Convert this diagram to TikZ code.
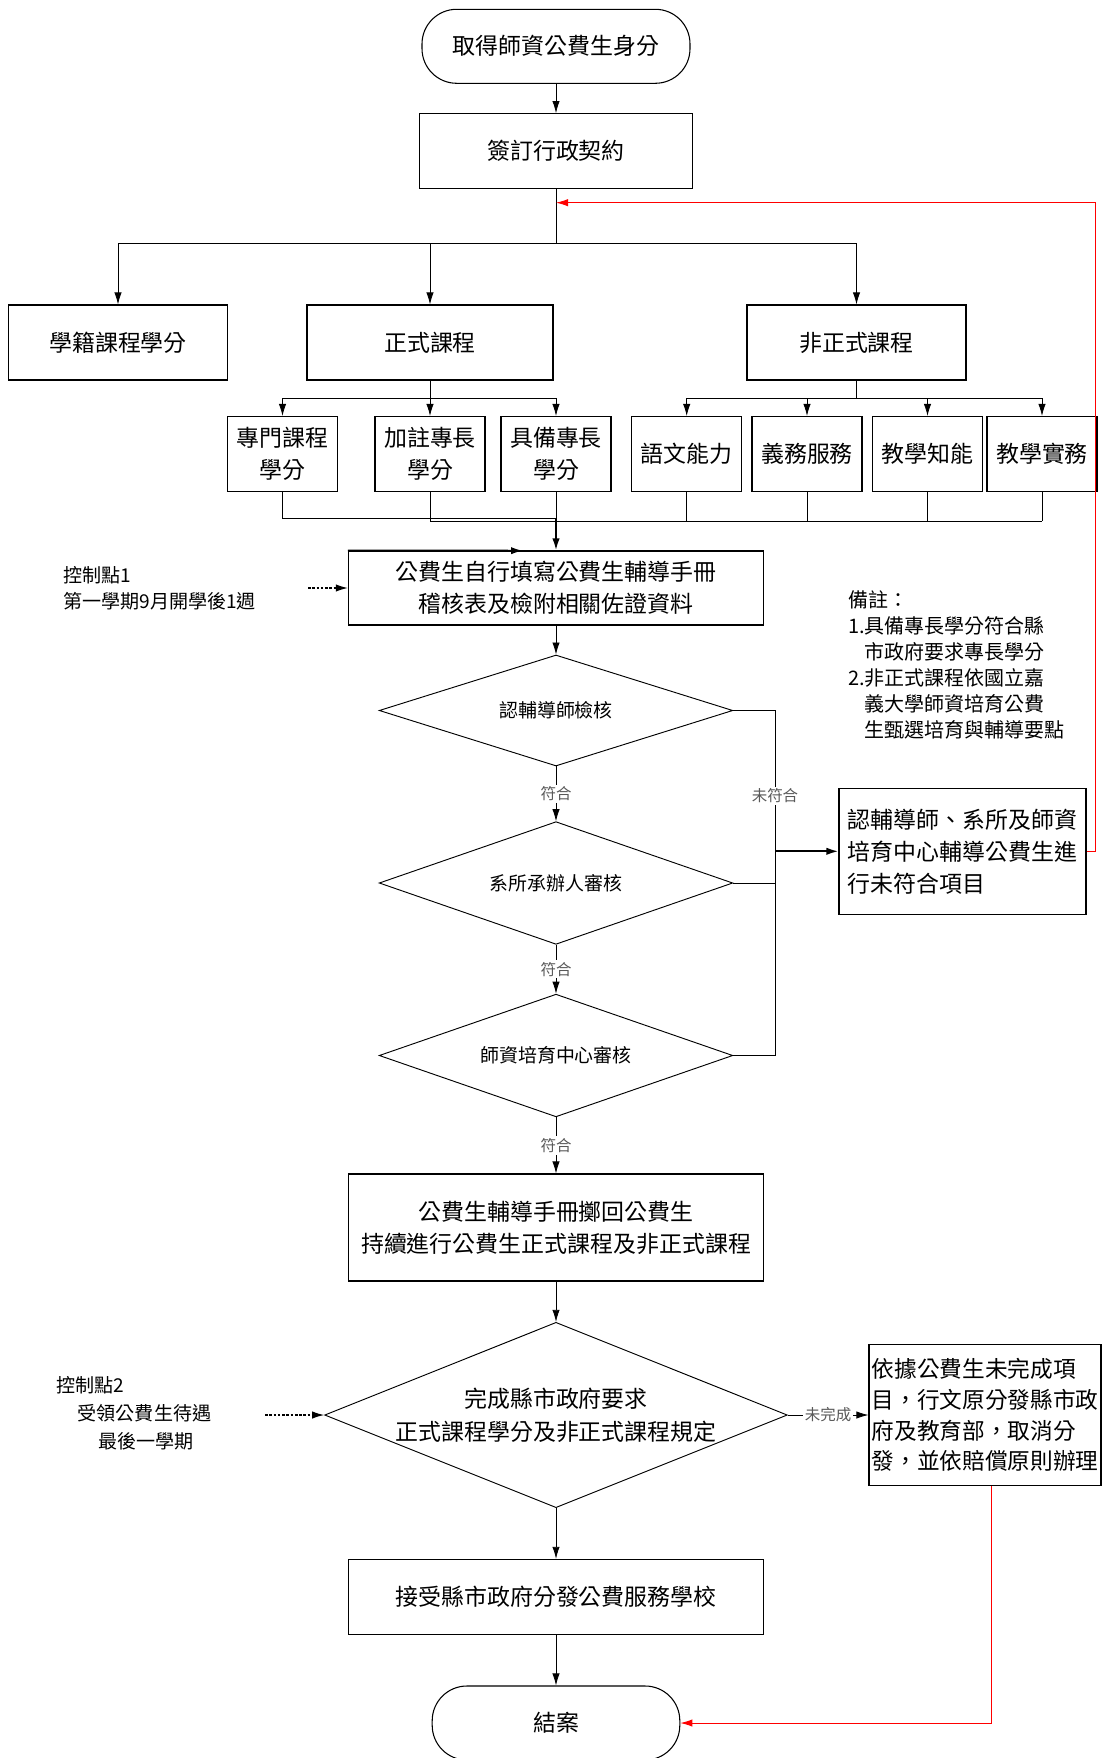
\documentclass[tikz,border=0pt]{standalone}
\usepackage{fontspec}
\setmainfont{Noto Sans CJK TC}
\usetikzlibrary{shapes.geometric,arrows.meta}

\tikzset{
  box/.style={draw, line width=0.8pt, inner sep=2pt, align=center, font=\fontsize{17.2pt}{24pt}\selectfont},
  subbox/.style={box, minimum width=82.5pt, minimum height=56.25pt},
  term/.style={box, rounded corners=26pt},
  check/.style={draw, diamond, line width=0.7pt, inner sep=0pt, aspect=2.88, align=center,
                minimum width=265.2pt, minimum height=92pt, font=\fontsize{14.2pt}{18pt}\selectfont},
  oklabel/.style={fill=white, inner sep=1.5pt, text=black!65, font=\fontsize{11.6pt}{14pt}\selectfont},
  flow/.style={->, line width=0.6pt},
  ctrl/.style={->, line width=0.9pt, dash pattern=on 2pt off 1.2pt},
  back/.style={->, red, line width=0.7pt},
  remark/.style={align=left, inner sep=0pt, font=\fontsize{15pt}{19.5pt}\selectfont},
}

\begin{document}
\begin{tikzpicture}[x=0.75pt, y=-0.75pt, >={Latex[length=9pt,width=5.5pt]}]
     \useasboundingbox (0,0) rectangle (1102,1758);

     \node[term, minimum width=201pt, minimum height=55.5pt] (start) at (556,46.3) {取得師資公費生身分};
     \node[box, minimum width=204.75pt, minimum height=56pt] (contract) at (556,151) {簽訂行政契約};

     \node[box, minimum width=164.25pt, minimum height=56.25pt] (reg) at (118,342.5) {學籍課程學分};
     \node[box, minimum width=184.5pt, minimum height=56.25pt] (formal) at (430,342.5) {正式課程};
     \node[box, minimum width=164.25pt, minimum height=56.25pt] (informal) at (856.5,342.5) {非正式課程};

     \node[subbox] (s1) at (282.5,454) {專門課程\\學分};
     \node[subbox] (s2) at (430,454) {加註專長\\學分};
     \node[subbox] (s3) at (556,454) {具備專長\\學分};
     \node[subbox] (n1) at (686.7,454) {語文能力};
     \node[subbox] (n2) at (807,454) {義務服務};
     \node[subbox] (n3) at (927.5,454) {教學知能};
     \node[subbox] (n4) at (1042,454) {教學實務};

     \node[box, minimum width=311.25pt, minimum height=55.5pt] (fill) at (556,588) {公費生自行填寫公費生輔導手冊\\稽核表及檢附相關佐證資料};

     \node[check, minimum height=83.25pt] (d1) at (556,710.5) {認輔導師檢核};
     \node[check] (d2) at (556,883) {系所承辦人審核};
     \node[check] (d3) at (556,1055.5) {師資培育中心審核};
     \node[box, minimum width=185.25pt, minimum height=94.5pt, align=left] (help) at (962.5,851.3) {認輔導師、系所及師資\\培育中心輔導公費生進\\行未符合項目};

     \node[box, minimum width=311.25pt, minimum height=80.25pt] (ret) at (556,1227.5) {公費生輔導手冊擲回公費生\\持續進行公費生正式課程及非正式課程};
     \node[check, aspect=2.5, minimum width=347pt, minimum height=139pt, font=\fontsize{17.2pt}{25pt}\selectfont] (final) at (556,1415) {完成縣市政府要求\\正式課程學分及非正式課程規定};
     \node[box, minimum width=174pt, minimum height=106pt, align=left, font=\fontsize{17pt}{23pt}\selectfont] (cancel) at (985,1415) {依據公費生未完成項\\目，行文原分發縣市政\\府及教育部，取消分\\發，並依賠償原則辦理};
     \node[box, minimum width=311.25pt, minimum height=56pt] (assign) at (556,1596.7) {接受縣市政府分發公費服務學校};
     \node[term, minimum width=185.7pt, minimum height=55.5pt] (end) at (556,1723) {結案};

     % side texts
     \node[remark, anchor=west, font=\fontsize{14.3pt}{19.5pt}\selectfont] (cp1) at (63,588) {控制點1\\第一學期9月開學後1週};
     \node[remark, anchor=west, font=\fontsize{14.3pt}{21pt}\selectfont] (cp2) at (56.5,1413) {控制點2\\\hspace*{1.1em}受領公費生待遇\\\hspace*{2.2em}最後一學期};
     \node[remark, anchor=north west] (memo) at (848,590) {備註：\\1.具備專長學分符合縣\\\phantom{1.}市政府要求專長學分\\2.非正式課程依國立嘉\\\phantom{2.}義大學師資培育公費\\\phantom{2.}生甄選培育與輔導要點};

     % connectors
     \draw[flow] (start) -- (contract);
     \coordinate (split) at (556,243.7);
     \draw[line width=0.6pt] (contract.south) -- (split);
     \foreach \n in {reg,formal,informal}
          \draw[flow] (split) -| (\n.north);

     \coordinate (fsplit) at (430,398.3);
     \coordinate (isplit) at (856.5,398.3);
     \draw[line width=0.6pt] (formal.south) -- (fsplit);
     \draw[line width=0.6pt] (informal.south) -- (isplit);
     \foreach \n in {s1,s2,s3}
          \draw[flow] (fsplit) -| (\n.north);
     \foreach \n in {n1,n2,n3,n4}
          \draw[flow] (isplit) -| (\n.north);

     \coordinate (mergeA) at (556,518);
     \coordinate (mergeB) at (1042,521);
     \draw[line width=0.6pt] (s1.south) |- (mergeA);
     \draw[line width=0.6pt] (s2.south) |- (mergeB);
     \foreach \n in {s3,n1,n2,n3,n4}
          \draw[line width=0.6pt] (\n.south) -- (\n.south |- mergeB);
     \draw[->, line width=1.4pt] (mergeA) -- (fill.north);
     \coordinate (stray) at (523,550.7);
     \draw[->, line width=1.4pt] (fill.north west) -- (stray);

     \coordinate (cp1end) at (308,588);
     \draw[ctrl] (cp1end) -- (fill.west);
     \coordinate (cp2end) at (265,1415);
     \draw[ctrl] (cp2end) -- (final.west);

     \draw[flow] (fill) -- (d1);
     \draw[flow] (d1.south) -- node[oklabel] (ok1) {符合} (d2.north);
     \draw[flow] (d2.south) -- node[oklabel] (ok2) {符合} (d3.north);
     \draw[flow] (d3.south) -- node[oklabel] (ok3) {符合} (ret.north);

     \coordinate (bus) at (775,851.3);
     \draw[line width=0.6pt] (d1.east) -| (bus);
     \draw[line width=0.6pt] (d2.east) -| (bus);
     \draw[line width=0.6pt] (d3.east) -| (bus);
     \node[oklabel] (nok) at (775,796) {未符合};
     \draw[->, line width=1.4pt] (bus) -- (help.west);

     \coordinate (loop) at (556,202.7);
     \draw[back] (help.east) -- ++(9,0) |- (loop);

     \draw[flow] (ret) -- (final);
     \draw[flow] (final.east) -- node[oklabel] (undone) {未完成} (cancel.west);
     \draw[flow] (final.south) -- (assign.north);
     \draw[flow] (assign) -- (end);
     \draw[back] (cancel.south) ++(6,0) |- (end.east);
\end{tikzpicture}
\end{document}
